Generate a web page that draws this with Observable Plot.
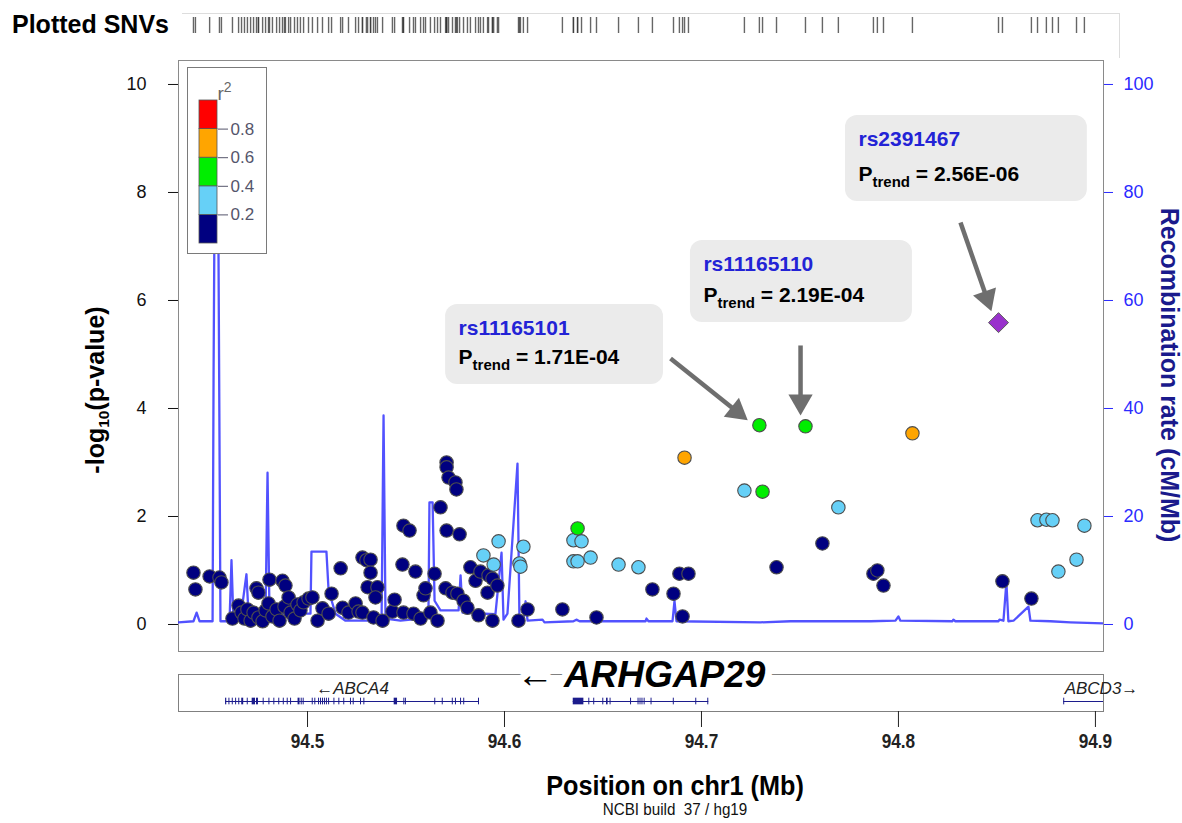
<!DOCTYPE html>
<html>
<head>
<meta charset="utf-8">
<script src="https://cdn.jsdelivr.net/npm/d3@7"></script>
<script src="https://cdn.jsdelivr.net/npm/@observablehq/plot@0.6"></script>
<style>
html,body{margin:0;padding:0;background:#fff;}
#wrap{position:relative;width:1182px;height:823px;overflow:hidden;background:#fff;font-family:"Liberation Sans",Arial,sans-serif;}
</style>
</head>
<body>
<div id="wrap"></div>
<script>
// ---------------- DATA ----------------
// SNVs with r2 < 0.2 (navy)
const navyPos = [
 94.4421, 94.4431, 94.4503, 94.4553, 94.4563, 94.4619, 94.4650, 94.4665, 94.4680, 94.4695,
 94.4711, 94.4726, 94.4741, 94.4751, 94.4751, 94.4772, 94.4787, 94.4802, 94.4807, 94.4822,
 94.4843, 94.4858, 94.4873, 94.4888, 94.4883, 94.4904, 94.4914, 94.4934, 94.4949, 94.4964,
 94.4980, 94.5005, 94.5025, 94.5051, 94.5076, 94.5107, 94.5122, 94.5168, 94.5178, 94.5208,
 94.5244, 94.5259, 94.5279, 94.5299, 94.5320, 94.5320, 94.5305, 94.5355, 94.5345, 94.5279,
 94.5335, 94.5381, 94.5431, 94.5442, 94.5482, 94.5548, 94.5487, 94.5518, 94.5487, 94.5538,
 94.5574, 94.5589, 94.5599, 94.5624, 94.5660, 94.5645, 94.5675, 94.5706, 94.5706, 94.5716,
 94.5751, 94.5756, 94.5706, 94.5772, 94.5701, 94.5736, 94.5761, 94.5792, 94.5812, 94.5827,
 94.5853, 94.5878, 94.5919, 94.5914, 94.5939, 94.5964, 94.5868, 94.5939, 94.6071, 94.6117,
 94.6294, 94.6467, 94.6751, 94.6858, 94.6888, 94.6934, 94.6904, 94.7381, 94.7614, 94.7873,
 94.7893, 94.7924, 94.8528, 94.8675
];
const navyLogP = [
 0.96, 0.65, 0.89, 0.87, 0.78, 0.11, 0.35, 0.22, 0.11, 0.28,
 0.07, 0.22, 0.67, 0.59, 0.13, 0.06, 0.26, 0.39, 0.83, 0.15,
 0.28, 0.07, 0.81, 0.72, 0.33, 0.50, 0.22, 0.11, 0.37, 0.26,
 0.41, 0.48, 0.50, 0.07, 0.30, 0.20, 0.57, 1.04, 0.31, 0.22,
 0.39, 0.24, 1.24, 1.19, 1.20, 0.96, 0.69, 0.69, 0.50, 0.22,
 0.13, 0.07, 0.24, 0.46, 1.11, 0.98, 1.83, 1.74, 0.22, 0.20,
 0.11, 0.54, 0.67, 0.22, 0.07, 0.94, 2.17, 3.00, 2.91, 2.72,
 2.63, 2.50, 1.74, 1.67, 0.67, 0.59, 0.57, 0.44, 0.31, 1.06,
 0.81, 0.98, 0.91, 0.59, 0.85, 0.72, 0.17, 0.07, 0.07, 0.28,
 0.28, 0.13, 0.65, 0.57, 0.94, 0.94, 0.15, 1.06, 1.50, 0.94,
 1.00, 0.72, 0.80, 0.48
];
// r2 0.2-0.4 (light blue)
const skyPos = [94.5893, 94.5970, 94.5945, 94.6096, 94.6076, 94.6081, 94.6350, 94.6391, 94.6350, 94.6371,
 94.6437, 94.6579, 94.6680, 94.7218, 94.7695, 94.8706, 94.8751, 94.8782, 94.8812, 94.8904, 94.8944];
const skyLogP = [1.28, 1.54, 1.11, 1.44, 1.13, 1.07, 1.56, 1.54, 1.17, 1.17,
 1.24, 1.11, 1.06, 2.48, 2.17, 1.93, 1.94, 1.93, 0.98, 1.20, 1.83];
// r2 0.4-0.6 (green)
const greenPos = [94.6371, 94.7310, 94.7294, 94.7528];
const greenLogP = [1.78, 2.46, 3.69, 3.67];
// r2 0.6-0.8 (orange)
const orangePos = [94.6914, 94.8071];
const orangeLogP = [3.09, 3.54];
// lead SNV
const leadSnp = ["rs2391467"];
const leadPos = [94.8508];
const leadLogP = [5.59];

// recombination rate (cM/Mb)
const recPos = [94.4345, 94.4421, 94.4437, 94.4452, 94.4518, 94.4523, 94.4530, 94.4545, 94.4558, 94.4604,
 94.4614, 94.4624, 94.4660, 94.4690, 94.4701, 94.4751, 94.4787, 94.4797, 94.4807, 94.4888,
 94.4909, 94.4924, 94.5015, 94.5020, 94.5096, 94.5107, 94.5142, 94.5193, 94.5320, 94.5376,
 94.5386, 94.5396, 94.5472, 94.5574, 94.5614, 94.5619, 94.5635, 94.5645, 94.5675, 94.5767,
 94.5777, 94.5787, 94.5954, 94.5985, 94.5995, 94.6015, 94.6066, 94.6076, 94.6096, 94.6107,
 94.6117, 94.6193, 94.6203, 94.6350, 94.6365, 94.6381, 94.6716, 94.6721, 94.6731, 94.6853,
 94.6863, 94.6873, 94.7299, 94.7452, 94.7858, 94.7985, 94.8000, 94.8010, 94.8274, 94.8279,
 94.8289, 94.8508, 94.8513, 94.8533, 94.8548, 94.8558, 94.8584, 94.8660, 94.8670, 94.8772,
 94.8873, 94.9041];
const recRate = [0.4, 0.6, 2.2, 0.6, 0.6, 46, 90, 90, 0.6, 0.6,
 11.9, 0.7, 1.1, 9.3, 1.5, 1.9, 2.2, 28.1, 1.9, 1.9,
 5.9, 2.0, 2.0, 13.5, 13.5, 6.3, 2.0, 0.7, 0.7, 1.1,
 38.7, 1.1, 0.7, 1.1, 2.2, 22.6, 22.6, 4.4, 2.6, 2.6,
 9.1, 2.2, 1.9, 13.3, 0.9, 2.0, 29.8, 0.7, 0.6, 4.3,
 0.7, 0.9, 0.4, 0.6, 0.9, 0.6, 0.6, 1.1, 0.6, 0.6,
 4.4, 0.6, 0.4, 0.6, 0.6, 0.7, 1.5, 0.7, 0.6, 0.9,
 0.6, 0.6, 0.9, 0.7, 7.8, 0.6, 0.7, 3.3, 0.7, 0.6,
 0.4, 0.2];

// genes (Mb)
const geneName = ["ABCA4", "ARHGAP29", "ABCD3"];
const geneStart = [94.4584, 94.6349, 94.8839];
const geneEnd = [94.5873, 94.7037, 94.9900];
const geneStrand = ["-", "-", "+"];
const exonStart = [94.4584,94.4601,94.4618,94.4635,94.4651,94.4666,94.4694,94.4719,94.4741,94.4775,94.4804,94.4829,94.4854,94.4877,94.4897,94.4914,94.4952,94.4968,94.4978,94.5024,94.5037,94.5056,94.5066,94.5076,94.5086,94.5096,94.5107,94.5134,94.5159,94.5184,94.5218,94.5232,94.5269,94.5286,94.5440,94.5489,94.5497,94.5646,94.5684,94.5735,94.5751,94.5777,94.5793,94.5868,
 94.6349,94.6428,94.6453,94.6499,94.6518,94.6536,94.6640,94.6678,94.6688,94.6698,94.6709,94.6744,94.6857,94.6971,94.7032,
 94.8839];
const exonEnd = [94.4590,94.4606,94.4623,94.4640,94.4656,94.4676,94.4699,94.4736,94.4751,94.4780,94.4809,94.4834,94.4859,94.4882,94.4902,94.4919,94.4962,94.4973,94.4983,94.5029,94.5042,94.5061,94.5071,94.5081,94.5091,94.5101,94.5112,94.5139,94.5164,94.5189,94.5223,94.5237,94.5274,94.5291,94.5457,94.5494,94.5502,94.5651,94.5689,94.5740,94.5756,94.5782,94.5798,94.5873,
 94.6403,94.6433,94.6458,94.6504,94.6526,94.6541,94.6645,94.6683,94.6693,94.6703,94.6714,94.6749,94.6862,94.6976,94.7037,
 94.8844];

// callouts
const calloutSnp = ["rs11165101", "rs11165110", "rs2391467"];
const calloutP = ["1.71E-04", "2.19E-04", "2.56E-06"];
const calloutBoxX = [[94.5701, 94.6807], [94.6944, 94.8071], [94.7731, 94.8959]];
const calloutBoxY = [[4.444, 5.926], [5.593, 7.111], [7.833, 9.426]];
const calloutArrowFrom = [[94.6843, 4.926], [94.7503, 5.167], [94.8315, 7.444]];
const calloutArrowTo = [[94.7223, 3.815], [94.7503, 3.926], [94.8467, 5.852]];

// scales / ticks
const xTicks = [94.5, 94.6, 94.7, 94.8, 94.9];
const yTicks = [0, 2, 4, 6, 8, 10];
const r2Breaks = [0.2, 0.4, 0.6, 0.8];
const r2Colors = ["#000080", "#66d0f7", "#00ee00", "#ffa500", "#ff0000"];
const r2Legend = [0.1, 0.3, 0.5, 0.7, 0.9];

// ---------------- LAYOUT ----------------
const W = 1182, ML = 178, MR = 79;
const xDomain = [94.4345, 94.9041];
const yDomain = [-0.5, 10.444];
const MAIN_TOP = 45, MH = 615, MT = 15, MB = 9;
const FONT = "'Liberation Sans', Arial, sans-serif";
const wrap = document.getElementById("wrap");
const NS = "http://www.w3.org/2000/svg";

function place(el, left, top) {
  el.style.position = "absolute";
  el.style.left = left + "px";
  el.style.top = top + "px";
  wrap.appendChild(el);
  return el;
}
function label(html, cx, cy, css, rot, anchorLeft, sxf) {
  const d = document.createElement("div");
  d.innerHTML = html;
  const tx = anchorLeft ? "0" : "-50%";
  d.style.cssText = `position:absolute;white-space:nowrap;line-height:1;left:${cx}px;top:${cy}px;transform:translate(${tx},-50%) rotate(${rot || 0}deg) scale(${sxf || 1},1);` + css;
  wrap.appendChild(d);
  return d;
}

// SNV table
const snps = [
  ...navyPos.map((p, i) => ({pos: p, logp: navyLogP[i], r2: r2Legend[0]})),
  ...skyPos.map((p, i) => ({pos: p, logp: skyLogP[i], r2: r2Legend[1]})),
  ...greenPos.map((p, i) => ({pos: p, logp: greenLogP[i], r2: r2Legend[2]})),
  ...orangePos.map((p, i) => ({pos: p, logp: orangeLogP[i], r2: r2Legend[3]}))
];
const lead = leadPos.map((p, i) => ({pos: p, logp: leadLogP[i], snp: leadSnp[i]}));
const allPos = [...snps.map(d => d.pos), ...leadPos];
const rec = recPos.map((p, i) => ({pos: p, rate: recRate[i]}));

// pixel helpers for arrowheads
const sx = Plot.scale({x: {domain: xDomain, range: [ML, W - MR]}});
const sy = Plot.scale({y: {domain: yDomain, range: [MH - MB, MT]}});
const callouts = calloutSnp.map((s, i) => {
  const px1 = sx.apply(calloutArrowFrom[i][0]), py1 = sy.apply(calloutArrowFrom[i][1]);
  const px2 = sx.apply(calloutArrowTo[i][0]), py2 = sy.apply(calloutArrowTo[i][1]);
  const ang = Math.atan2(py2 - py1, px2 - px1);
  const hx = px2 - 11 * Math.cos(ang), hy = py2 - 11 * Math.sin(ang);
  return {
    snp: s, p: calloutP[i],
    bx1: calloutBoxX[i][0], bx2: calloutBoxX[i][1], by1: calloutBoxY[i][0], by2: calloutBoxY[i][1],
    tx: calloutBoxX[i][0], ty1: calloutBoxY[i][1], ty2: calloutBoxY[i][0],
    ax1: calloutArrowFrom[i][0], ay1: calloutArrowFrom[i][1],
    hx: sx.invert(hx), hy: sy.invert(hy), rot: ang * 180 / Math.PI + 90
  };
});

// ---------------- RUG ----------------
const rug = Plot.plot({
  width: W, height: 45, marginLeft: ML, marginRight: MR, marginTop: 17, marginBottom: 12,
  style: {background: "transparent", overflow: "visible"},
  x: {domain: xDomain, axis: null},
  marks: [
    Plot.ruleX(allPos, {x: d => d, stroke: "#333", strokeOpacity: 0.75, strokeWidth: 1.4})
  ]
});
place(rug, 0, 0);
const rugBox = document.createElement("div");
rugBox.style.cssText = "width:937px;height:44px;border-top:1px solid #ddd;border-right:1px solid #ddd;";
place(rugBox, 182, 13);
label("Plotted SNVs", 12, 24, `font-family:${FONT};font-weight:bold;font-size:25px;color:#000;`, 0, true);

// ---------------- MAIN ----------------
const main = Plot.plot({
  width: W, height: MH, marginLeft: ML, marginRight: MR, marginTop: MT, marginBottom: MB,
  style: {background: "transparent", overflow: "visible", fontFamily: FONT, fontSize: "18px", color: "#111"},
  x: {domain: xDomain, axis: null},
  y: {domain: yDomain, axis: null},
  color: {type: "threshold", domain: r2Breaks, range: r2Colors},
  marks: [
    Plot.frame({stroke: "#8a8a8a"}),
    Plot.axisY({anchor: "left", ticks: yTicks, tickSize: 10, tickPadding: 22, label: null, color: "#111"}),
    Plot.axisY({anchor: "right", ticks: yTicks, tickFormat: d => d * 10, tickSize: 9, tickPadding: 11, label: null, color: "#2b2bff"}),
    Plot.line(rec, {x: "pos", y: d => d.rate / 10, stroke: "#3434ff", strokeWidth: 2.3, strokeOpacity: 0.85, clip: true}),
    Plot.dot(snps, {x: "pos", y: "logp", fill: "r2", r: 6.7, stroke: "#4d4d4d", strokeWidth: 1.1}),
    Plot.dot(lead, {x: "pos", y: "logp", symbol: "diamond2", r: 9, fill: "#9932cc", stroke: "#5a5a5a", strokeWidth: 1}),
    Plot.rect(callouts, {x1: "bx1", x2: "bx2", y1: "by1", y2: "by2", fill: "#ebebeb", rx: 12}),
    Plot.link(callouts, {x1: "ax1", y1: "ay1", x2: "hx", y2: "hy", stroke: "#6e6e6e", strokeWidth: 4.5}),
    Plot.dot(callouts, {x: "hx", y: "hy", symbol: "triangle", r: 9, fill: "#6e6e6e", rotate: "rot"}),
    Plot.text(callouts, {x: "tx", y: "ty1", text: "snp", textAnchor: "start", dx: 13, dy: 24, fill: "#2323d6", fontWeight: "bold", fontSize: 21, fontFamily: FONT}),
    Plot.text(callouts, {x: "tx", y: "ty2", text: d => "P_trend = " + d.p, textAnchor: "start", dx: 13, dy: -27, fill: "#000", fontWeight: "bold", fontSize: 21, fontFamily: FONT})
  ]
});
main.querySelectorAll("text").forEach(t => {
  const s = t.textContent;
  if (s.startsWith("P_trend")) {
    t.textContent = "";
    const a = document.createElementNS(NS, "tspan"); a.textContent = "P";
    const b = document.createElementNS(NS, "tspan"); b.textContent = "trend"; b.setAttribute("font-size", "15"); b.setAttribute("dy", "6");
    const c = document.createElementNS(NS, "tspan"); c.textContent = s.slice(7); c.setAttribute("dy", "-6");
    t.append(a, b, c);
  }
});
place(main, 0, MAIN_TOP);

// ---------------- LEGEND ----------------
const legend = Plot.plot({
  width: 78, height: 185, marginLeft: 11, marginRight: 49, marginTop: 32, marginBottom: 10,
  style: {background: "white", fontFamily: FONT, border: "1px solid #7a7a7a", boxSizing: "content-box", overflow: "visible"},
  x: {domain: [0, 1], axis: null},
  y: {domain: [0, 1], axis: null},
  color: {type: "threshold", domain: r2Breaks, range: r2Colors},
  marks: [
    Plot.rect(r2Legend, {x1: 0, x2: 1, y1: d => d - 0.1, y2: d => d + 0.1, fill: d => d, stroke: "#555", strokeWidth: 0.8}),
    Plot.axisY({anchor: "right", ticks: r2Breaks, tickSize: 10, tickPadding: 3, label: null, color: "#55556b", fontSize: 17}),
    Plot.text(["r2"], {text: d => d, frameAnchor: "top", dx: 16, dy: -14, fontSize: 19, fill: "#666"})
  ]
});
legend.querySelectorAll("text").forEach(t => {
  t.style.fontSize = "17px";
  if (t.textContent === "r2") {
    t.textContent = "";
    t.style.fontSize = "19px";
    const a = document.createElementNS(NS, "tspan"); a.textContent = "r";
    const b = document.createElementNS(NS, "tspan"); b.textContent = "2"; b.setAttribute("font-size", "14"); b.setAttribute("dy", "-8");
    t.append(a, b);
  }
});
place(legend, 187, 67);

// ---------------- GENES ----------------
const genes = geneName.map((g, i) => {
  const over = geneEnd[i] > xDomain[1];
  return {
    name: g, start: geneStart[i], end: geneEnd[i], strand: geneStrand[i],
    lx: over ? xDomain[1] : (geneStart[i] + geneEnd[i]) / 2,
    anchor: over ? "end" : "middle",
    text: geneStrand[i] === "-" ? "←" + g : g + "→"
  };
});
const exons = exonStart.map((s, i) => ({s, e: exonEnd[i]}));
const focus = genes.filter(d => d.name === "ARHGAP29");
const others = genes.filter(d => d.name !== "ARHGAP29");
const geneSvg = Plot.plot({
  width: W, height: 163, marginLeft: ML, marginRight: MR, marginTop: 14, marginBottom: 112,
  style: {background: "transparent", overflow: "visible", fontFamily: FONT, fontSize: "21px", fontWeight: "bold", color: "#111"},
  x: {domain: xDomain, axis: null},
  y: {domain: [0, 1], axis: null},
  marks: [
    Plot.frame({stroke: "#808080"}),
    Plot.ruleY(genes, {x1: "start", x2: "end", y: 0.27, stroke: "#1c1c8c", strokeWidth: 1.1, clip: true}),
    Plot.rect(exons, {x1: "s", x2: "e", y1: 0.18, y2: 0.36, fill: "#1c1c8c", clip: true}),
    Plot.text(others, {x: "lx", y: 0.62, text: "text", textAnchor: "anchor", fontStyle: "italic", fontWeight: "normal", fontSize: 17, fontFamily: FONT, fill: "#222"}),
    Plot.text(focus, {x: "lx", y: 0.97, text: d => "← " + d.name, fontStyle: "italic", fontWeight: "bold", fontSize: 37, fontFamily: FONT, fill: "#000", stroke: "white", strokeWidth: 14}),
    Plot.axisX({anchor: "bottom", ticks: xTicks, tickSize: 16, tickPadding: 6, tickFormat: d => d.toFixed(1), label: null, color: "#222"})
  ]
});
geneSvg.querySelectorAll("text").forEach(t => {
  const s = t.textContent;
  if (s === "← ARHGAP29") {
    t.textContent = "";
    const a = document.createElementNS(NS, "tspan"); a.textContent = "← "; a.setAttribute("font-weight", "normal"); a.setAttribute("font-style", "normal");
    const b = document.createElementNS(NS, "tspan"); b.textContent = "ARHGAP29";
    t.append(a, b);
  } else if (s === "ABCD3→") {
    t.setAttribute("dx", "-2");
  } else if (/^94\.\d$/.test(s)) {
    const tr = t.getAttribute("transform") || "";
    t.setAttribute("transform", tr + " scale(0.82,1)");
  }
});
place(geneSvg, 0, 660);

// ---------------- TITLES ----------------
label("-log<span style='font-size:0.62em;position:relative;top:0.3em'>10</span>(p-value)", 95, 390,
  `font-family:${FONT};font-weight:bold;font-size:25px;color:#000;`, -90);
label("Recombination rate (cM/Mb)", 1169, 375,
  `font-family:${FONT};font-weight:bold;font-size:25px;color:#1a1a8c;`, 90);
label("Position on chr1 (Mb)", 675, 786,
  `font-family:${FONT};font-weight:bold;font-size:28px;color:#000;`, 0, false, 0.9);
label("NCBI build&nbsp; 37 / hg19", 675, 810,
  `font-family:${FONT};font-size:16px;color:#111;`, 0, false, 0.95);
</script>
</body>
</html>
